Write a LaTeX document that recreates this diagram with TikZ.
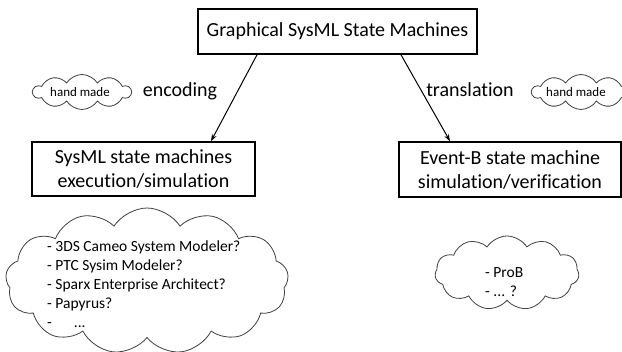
\documentclass[tikz,border=0pt]{standalone}
\usepackage{fontspec}
\setmainfont[Ligatures=NoCommon]{Carlito}
\usetikzlibrary{shapes.symbols,arrows.meta}
\begin{document}
\begin{tikzpicture}[x=1pt,y=-1pt,
  box/.style={draw, line width=1.6pt, align=center, inner sep=0pt, font=\fontsize{20}{24}\selectfont},
  lbl/.style={font=\fontsize{20}{24}\selectfont, inner sep=0pt},
  puff/.style={cloud, draw=black!75, line width=0.8pt, cloud puffs=12, cloud puff arc=115, inner sep=0pt},
  list/.style={font=\fontsize{15.5}{19}\selectfont, align=left, anchor=west, inner sep=0pt},
  small/.style={font=\fontsize{13}{15}\selectfont, inner sep=0pt},
  conn/.style={-{Stealth[length=7pt,width=5pt]}, line width=1pt}]
\useasboundingbox (0,0) rectangle (622,352);
\fill[white] (0,0) rectangle (622,352);
% boxes
\node[box, minimum width=279pt, minimum height=45pt] (top) at (337.5,31.5) {Graphical SysML State Machines};
\node[box, minimum width=223pt, minimum height=54pt] (sim) at (143.5,169) {SysML state machines\\execution/simulation};
\node[box, minimum width=222pt, minimum height=55pt] (evb) at (510,169.5) {Event-B state machine\\simulation/verification};
% connectors
\draw[conn] ([xshift=-80.5pt]top.south) -- ([xshift=67.5pt]sim.north);
\draw[conn] ([xshift=63.5pt]top.south) -- ([xshift=-60pt]evb.north);
% labels
\node[lbl] (enc) at (180,91) {encoding};
\node[lbl] (tra) at (470,90) {translation};
% hand made clouds
\node[puff, cloud puffs=10, minimum width=98pt, minimum height=35pt] (hm1) at (82,92) {};
\node[small] (hm1t) at (80,92) {hand made};
\node[puff, cloud puffs=10, minimum width=98pt, minimum height=35pt] (hm2) at (581,92) {};
\node[small] (hm2t) at (576,92) {hand made};
% tool clouds
\node[puff, cloud puffs=13, minimum width=283pt, minimum height=146pt] (tools) at (147,281) {};
\node[list] (toolst) at (47,284) {- 3DS Cameo System Modeler?\\- PTC Sysim Modeler?\\- Sparx Enterprise Architect?\\- Papyrus?\\-\hspace{22pt}...};
\node[puff, cloud puffs=11, minimum width=144pt, minimum height=74pt] (prob) at (507,273) {};
\node[list] (probt) at (485,282.5) {- ProB\\- ... ?};
\end{tikzpicture}
\end{document}
